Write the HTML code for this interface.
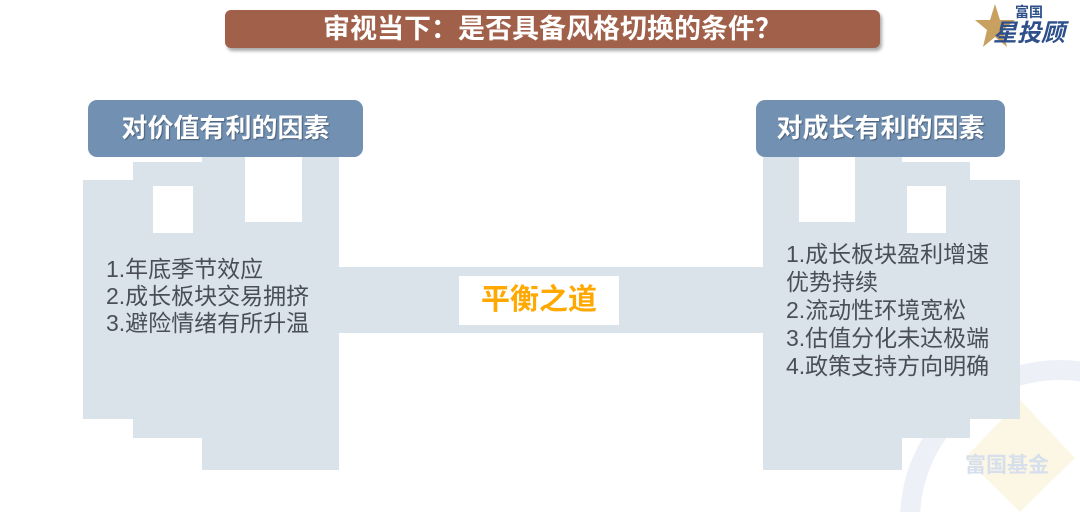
<!DOCTYPE html>
<html><head><meta charset="utf-8"><style>
html,body{margin:0;width:1080px;height:512px;overflow:hidden}
body{background:#fff;position:relative;font-family:"Liberation Sans","Noto Sans CJK SC",sans-serif}
.f{position:absolute;background:#dae2ea}
.w{position:absolute;background:#fff}
.tab{position:absolute;background:#7291b2;border-radius:9px;color:#fff;font-weight:bold;font-size:26px;text-align:center;line-height:57px;text-shadow:1px 1px 1px #4a5e78}
.t{position:absolute;color:#4a4f57;font-size:23px;line-height:27px;white-space:nowrap}
</style></head><body>
<svg style="position:absolute;left:0;top:0;display:block" width="1080" height="512">
<circle cx="1060" cy="520" r="150" fill="none" stroke="#edf1f7" stroke-width="20"/>
<polygon points="1020,400 1075,458 1020,512 965,458" fill="#fcf6e4"/>
</svg>
<div style="position:absolute;left:225px;top:10px;width:655px;height:38px;background:#a0604a;border-radius:6px;box-shadow:2px 3px 3px #aaa;color:#fff;font-weight:bold;font-size:27px;text-align:center;line-height:38px;overflow:hidden">审视当下：是否具备风格切换的条件？</div>
<div style="position:absolute;left:975px;top:2px;width:100px;height:50px;overflow:hidden">
<svg width="40" height="50" style="position:absolute;left:0;top:0"><polygon points="20,2 25,18 40,18 28,28 32,45 20,35 8,45 12,28 0,18 15,18" fill="#c8a060"/></svg>
<div style="position:absolute;left:40px;top:2px;font-size:14px;line-height:16px;font-weight:bold;color:#2d4f8a">富国</div>
<div style="position:absolute;left:18px;top:18px;font-size:24px;line-height:28px;font-weight:bold;color:#2d4f8a;font-style:italic">星投顾</div>
</div>
<div style="position:absolute;left:965px;top:454px;font-size:21px;line-height:24px;font-weight:bold;color:#d6dfec">富国基金</div>

<div class="f" style="left:133px;top:162px;width:206px;height:276px"></div>
<div class="f" style="left:202px;top:157px;width:137px;height:313px"></div>
<div class="f" style="left:83px;top:180px;width:256px;height:239px"></div>
<div class="w" style="left:153px;top:186px;width:40px;height:47px"></div>
<div class="w" style="left:245px;top:157px;width:57px;height:65px"></div>
<div class="f" style="left:339px;top:267px;width:424px;height:66px"></div>
<div class="f" style="left:763px;top:157px;width:139px;height:313px"></div>
<div class="f" style="left:763px;top:162px;width:207px;height:276px"></div>
<div class="f" style="left:763px;top:180px;width:257px;height:239px"></div>
<div class="w" style="left:799px;top:157px;width:56px;height:65px"></div>
<div class="w" style="left:907px;top:186px;width:39px;height:47px"></div>

<div class="tab" style="left:88px;top:100px;width:275px;height:57px">对价值有利的因素</div>
<div class="tab" style="left:756px;top:100px;width:249px;height:57px">对成长有利的因素</div>

<div class="t" style="left:106px;top:256px">1.年底季节效应<br>2.成长板块交易拥挤<br>3.避险情绪有所升温</div>
<div class="t" style="left:786px;top:240px;line-height:28px">1.成长板块盈利增速<br>优势持续<br>2.流动性环境宽松<br>3.估值分化未达极端<br>4.政策支持方向明确</div>

<div style="position:absolute;left:459px;top:276px;width:160px;height:49px;background:#fff;color:#ffa800;font-weight:bold;font-size:29px;text-align:center;line-height:49px">平衡之道</div>
</body></html>
